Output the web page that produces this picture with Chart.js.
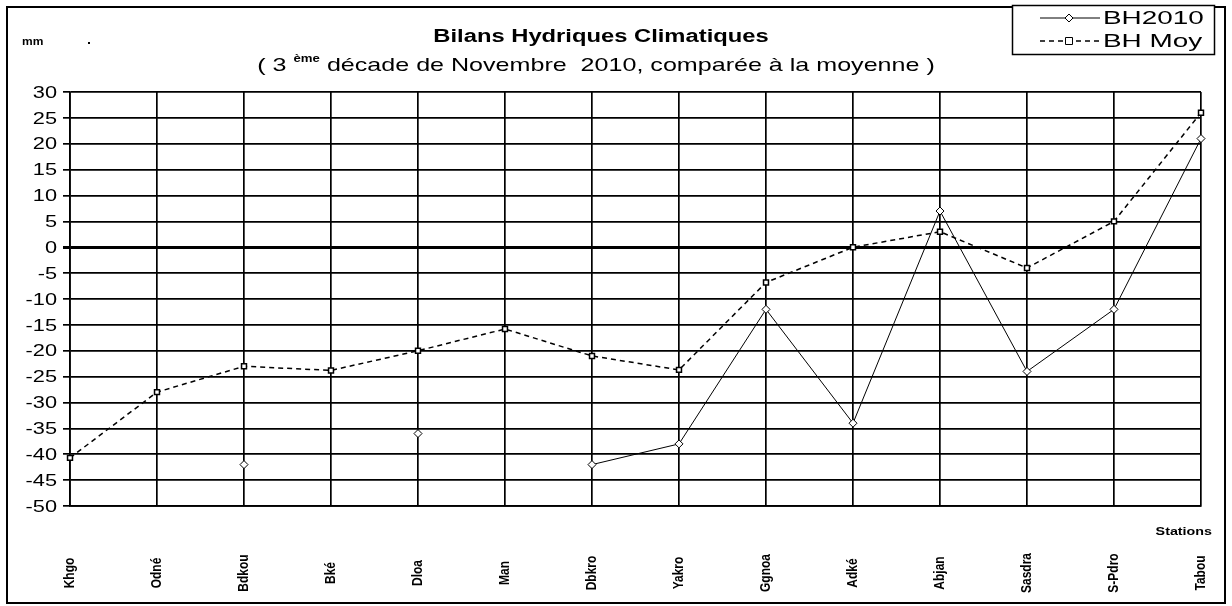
<!DOCTYPE html>
<html>
<head>
<meta charset="utf-8">
<script src="https://cdn.jsdelivr.net/npm/chart.js@4.4.1/dist/chart.umd.min.js"></script>
<style>
  html, body { margin: 0; padding: 0; background: #fff; }
  #wrap { width: 1232px; height: 606px; }
</style>
</head>
<body>
<div id="wrap"><canvas id="chart" width="1232" height="606"></canvas></div>
<script>
// stations (x categories)
const stations = ["Khgo", "Odné", "Bdkou", "Bké", "Dloa", "Man", "Dbkro",
                  "Yakro", "Ggnoa", "Adké", "Abjan", "Sasdra", "S-Pdro", "Tabou"];
// water balance, 3rd dekad of November 2010 (mm)
const bh2010 = [null, null, -42, null, -36, null, -42, -38, -12, -34, 7, -24, -12, 21];
// average water balance (mm)
const bhMoy = [-40.7, -28, -23, -23.8, -20, -15.8, -21, -23.7, -6.8, 0, 3, -4, 5, 26];
const yMin = -50, yMax = 30, yStep = 5;

const FONT = "'Liberation Sans', Arial, sans-serif";
// the original picture is stretched sideways, so text gets widened too
const SX = 1.32;

function stretchText(ctx, text, x, y, font, align, sx) {
  ctx.save();
  ctx.font = font;
  ctx.textAlign = align;
  ctx.translate(x, y);
  ctx.scale(sx, 1);
  ctx.fillText(text, 0, 0);
  ctx.restore();
}

const decorations = {
  id: "decorations",
  afterDraw(chart) {
    const { ctx } = chart;
    const xs = chart.scales.x;
    const ys = chart.scales.y;
    ctx.save();
    ctx.fillStyle = "#000";
    ctx.strokeStyle = "#000";
    ctx.textBaseline = "alphabetic";

    // titles
    stretchText(ctx, "Bilans Hydriques Climatiques", 601, 42, "bold 18px " + FONT, "center", SX);

    const parts = [
      ["( 3 ", "19px " + FONT, 0],
      ["ème", "bold 10px " + FONT, -9],
      [" décade de Novembre  2010, comparée à la moyenne )", "19px " + FONT, 0],
    ];
    let total = 0;
    parts.forEach(([t, f]) => { ctx.font = f; total += ctx.measureText(t).width * SX; });
    let px = 596 - total / 2;
    parts.forEach(([t, f, dy]) => {
      stretchText(ctx, t, px, 71 + dy, f, "left", SX);
      ctx.font = f;
      px += ctx.measureText(t).width * SX;
    });

    // unit label
    stretchText(ctx, "mm", 22, 45, "bold 10px " + FONT, "left", 1.2);
    ctx.fillRect(88, 42, 2, 2);

    // y tick labels
    ctx.textBaseline = "middle";
    ys.ticks.forEach((t) => {
      stretchText(ctx, String(t.value), 57, ys.getPixelForValue(t.value) + 1,
                  "17px " + FONT, "right", 1.28);
    });

    // axis title
    ctx.textBaseline = "alphabetic";
    stretchText(ctx, "Stations", 1212, 535, "bold 11px " + FONT, "right", 1.3);

    // rotated station names
    ctx.font = "bold 12px " + FONT;
    ctx.textAlign = "center";
    ctx.textBaseline = "middle";
    stations.forEach((s, i) => {
      ctx.save();
      ctx.translate(xs.getPixelForValue(i), 573);
      ctx.scale(1.2, 1);
      ctx.rotate(-Math.PI / 2);
      ctx.fillText(s, 0, 0);
      ctx.restore();
    });

    // outer frame
    ctx.lineWidth = 2;
    ctx.strokeRect(7, 7, 1218, 596);

    // legend
    ctx.fillStyle = "#fff";
    ctx.fillRect(1012, 5, 202, 49);
    ctx.lineWidth = 1.5;
    ctx.strokeRect(1012.5, 5.5, 202, 49);
    chart.data.datasets.forEach((ds, i) => {
      const ly = 18 + i * 23;
      ctx.strokeStyle = "#000";
      ctx.lineWidth = ds.borderWidth;
      ctx.setLineDash(ds.borderDash || []);
      ctx.beginPath();
      ctx.moveTo(1040, ly);
      ctx.lineTo(1100, ly);
      ctx.stroke();
      ctx.setLineDash([]);
      ctx.lineWidth = 1;
      ctx.fillStyle = "#fff";
      const r = ds.pointRadius;
      ctx.beginPath();
      if (ds.pointStyle === "rectRot") {
        ctx.moveTo(1069, ly - r); ctx.lineTo(1069 + r, ly);
        ctx.lineTo(1069, ly + r); ctx.lineTo(1069 - r, ly);
        ctx.closePath();
      } else {
        ctx.rect(1069 - r, ly - r, 2 * r, 2 * r);
      }
      ctx.fill();
      ctx.stroke();
      ctx.fillStyle = "#000";
      ctx.textBaseline = "middle";
      stretchText(ctx, ds.label, 1103, ly + 1, "18px " + FONT, "left", 1.55);
    });
    ctx.restore();
  },
};

new Chart(document.getElementById("chart"), {
  type: "line",
  data: {
    labels: stations,
    datasets: [
      {
        label: "BH2010",
        data: bh2010,
        borderColor: "#000",
        borderWidth: 1,
        pointStyle: "rectRot",
        pointRadius: 4,
        pointBackgroundColor: "#fff",
        pointBorderColor: "#000",
        pointBorderWidth: 1,
        spanGaps: false,
        clip: false,
        tension: 0,
      },
      {
        label: "BH Moy",
        data: bhMoy,
        borderColor: "#000",
        borderWidth: 1.5,
        borderDash: [5, 4],
        pointStyle: "rect",
        pointRadius: 3.5,
        pointBackgroundColor: "#fff",
        pointBorderColor: "#000",
        pointBorderWidth: 1.5,
        clip: false,
        tension: 0,
      },
    ],
  },
  options: {
    responsive: false,
    animation: false,
    layout: { padding: { left: 0, right: 31, top: 92, bottom: 100 } },
    plugins: {
      legend: { display: false },
      title: { display: false },
      tooltip: { enabled: false },
    },
    scales: {
      x: {
        offset: false,
        ticks: { display: false },
        grid: { color: "#000", lineWidth: 1.7, drawTicks: false },
        border: { color: "#000", width: 1.7 },
        afterFit: (s) => { s.height = 0; },
      },
      y: {
        min: yMin,
        max: yMax,
        ticks: { stepSize: yStep, display: false },
        grid: {
          color: "#000",
          lineWidth: (c) => (c.tick && c.tick.value === 0 ? 3 : 1.7),
          tickLength: 7,
        },
        border: { color: "#000", width: 1.7 },
        afterFit: (s) => { s.width = 70; },
      },
    },
  },
  plugins: [decorations],
});
</script>
</body>
</html>
